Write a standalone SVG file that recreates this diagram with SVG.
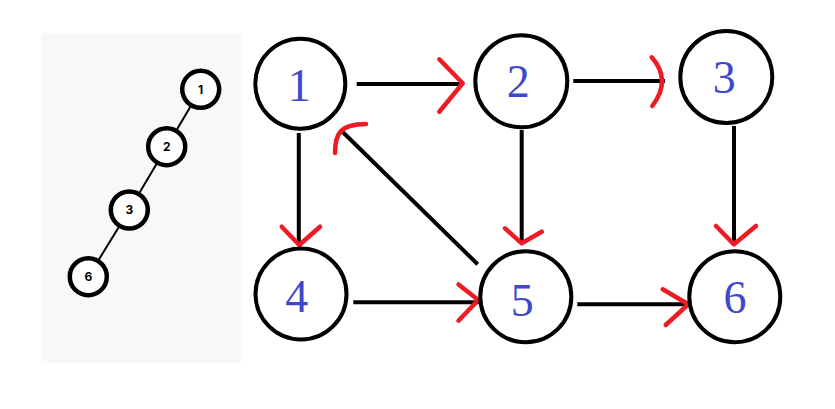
<svg xmlns="http://www.w3.org/2000/svg" width="835" height="409" viewBox="0 0 835 409">
<style>
.big circle{fill:#fff;stroke:#000;stroke-width:4}
.big text{font-family:"Liberation Serif",serif;font-size:46px;fill:#3f48cc;text-anchor:middle}
.small circle{fill:#fff;stroke:#000;stroke-width:4.5}
.small text{font-family:"Inter","Liberation Sans",sans-serif;font-size:12px;font-weight:bold;fill:#000;text-anchor:middle}
.edge{stroke:#000;stroke-width:4;fill:none}
.tree{stroke:#000;stroke-width:2;fill:none}
.head{stroke:#ed1c24;stroke-width:4.5;fill:none;stroke-linecap:round;stroke-linejoin:round}
</style>
<rect width="835" height="409" fill="#fff"/>
<rect x="41" y="33" width="200" height="330" fill="#f8f8f8"/>
<g id="tree-edges">
<line class="tree" x1="200.7" y1="89.3" x2="166.7" y2="146.7"/>
<line class="tree" x1="166.7" y1="146.7" x2="129.3" y2="210"/>
<line class="tree" x1="129.3" y1="210" x2="88.3" y2="276.7"/>
</g>
<g id="t1" class="small"><circle cx="200.7" cy="89.3" r="18.5"/><text x="200.7" y="93.5">1</text></g>
<g id="t2" class="small"><circle cx="166.7" cy="146.7" r="18.5"/><text x="166.7" y="150.9">2</text></g>
<g id="t3" class="small"><circle cx="129.3" cy="210" r="18.5"/><text x="129.3" y="214.2">3</text></g>
<g id="t6" class="small"><circle cx="88.3" cy="276.7" r="18.5"/><text x="88.3" y="280.9">6</text></g>
<g id="connectors">
<line class="edge" x1="356.7" y1="84" x2="463" y2="84"/>
<polyline class="head" points="439.3,59.3 462.7,83.3 439.3,111.7"/>
<line class="edge" x1="573.3" y1="81" x2="665" y2="81"/>
<path class="head" d="M651.7,57.3 Q672,80 652.3,106"/>
<line class="edge" x1="298.8" y1="133" x2="298.8" y2="245"/>
<polyline class="head" points="281.7,226.7 299.3,245 320,226.7"/>
<line class="edge" x1="521.7" y1="130" x2="521.7" y2="243"/>
<polyline class="head" points="505,228.3 521.7,243.3 541.7,231.7"/>
<line class="edge" x1="734" y1="126" x2="734" y2="244"/>
<polyline class="head" points="716,226 734,244.3 756,226"/>
<line class="edge" x1="353.3" y1="302.3" x2="479" y2="302.3"/>
<polyline class="head" points="458.5,284.5 478.3,300 458.5,320.7"/>
<line class="edge" x1="577.3" y1="304.3" x2="688" y2="304.3"/>
<polyline class="head" points="662.7,289.3 688.3,304.3 665.7,325"/>
<line class="edge" x1="340.7" y1="130" x2="477.7" y2="264.3"/>
<path class="head" d="M335,153 C335,134 340,124 366,124"/>
</g>
<g id="n1" class="big"><circle cx="300.3" cy="83.7" r="45"/><text x="299.3" y="101">1</text></g>
<g id="n2" class="big"><circle cx="521.3" cy="81.3" r="46"/><text x="518.3" y="96.7">2</text></g>
<g id="n3" class="big"><circle cx="726.3" cy="77" r="46"/><text x="724.3" y="93.3">3</text></g>
<g id="n4" class="big"><circle cx="301" cy="294" r="45.5"/><text x="296.7" y="311.7">4</text></g>
<g id="n5" class="big"><circle cx="525.8" cy="296.7" r="45.5"/><text x="522.3" y="316">5</text></g>
<g id="n6" class="big"><circle cx="734.8" cy="296.7" r="45.5"/><text x="735" y="313.3">6</text></g>
</svg>
